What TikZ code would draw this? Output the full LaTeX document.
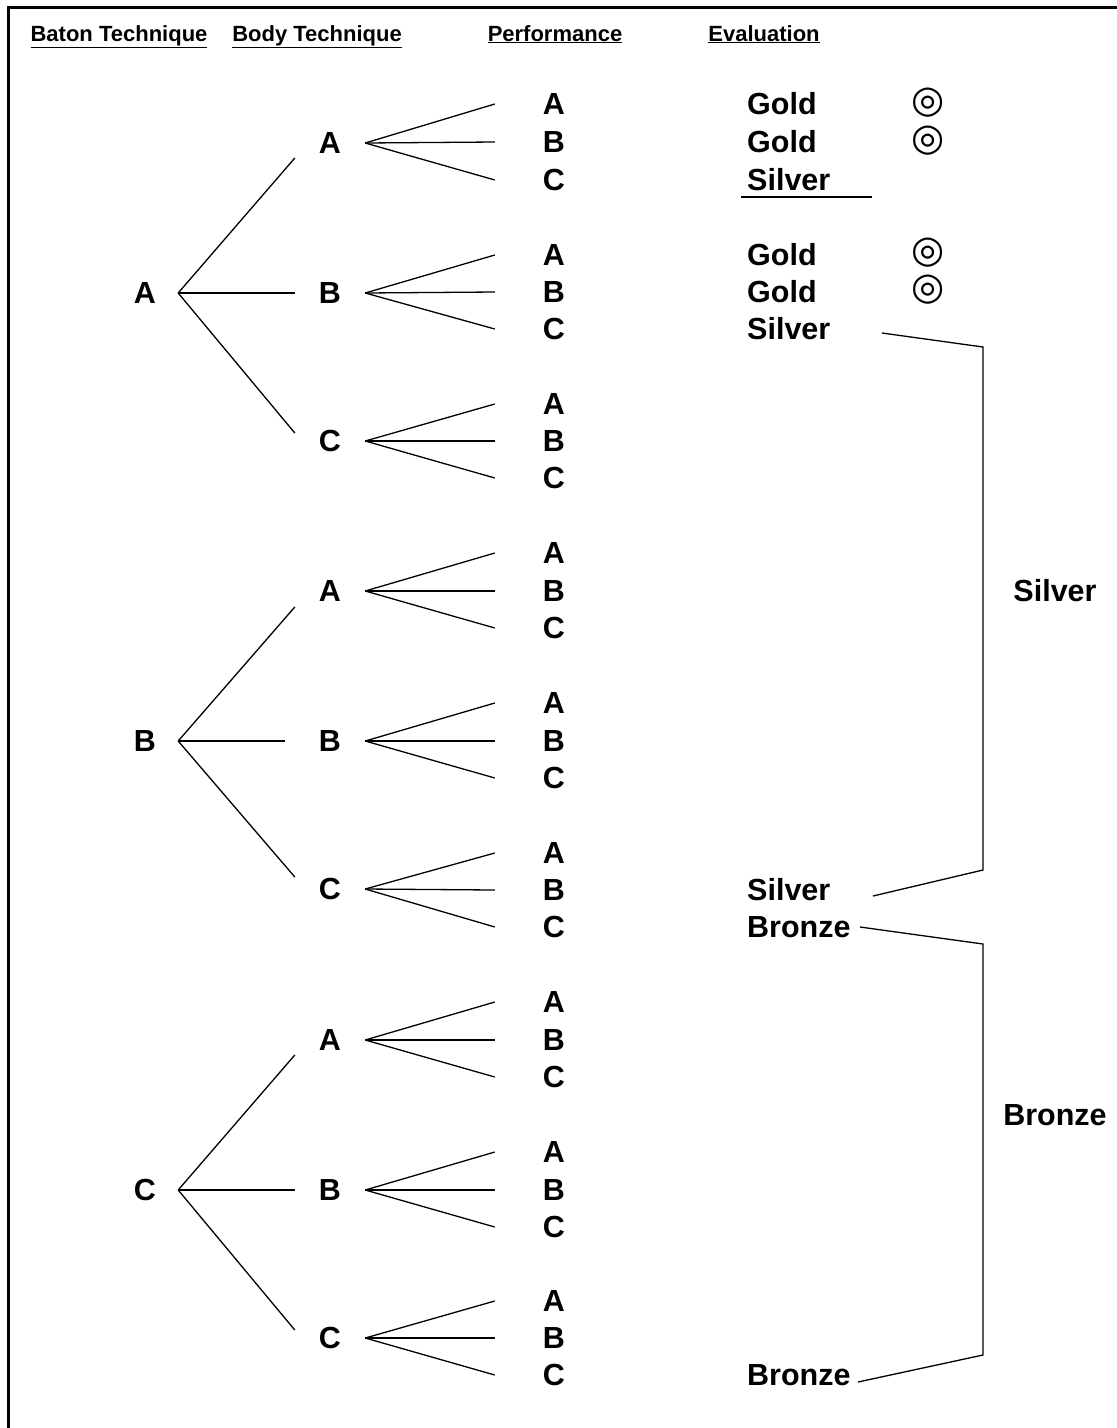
\documentclass[tikz,border=0pt]{standalone}
\usepackage{fontspec}
\setmainfont{Liberation Sans}
\newfontfamily\symfont{DejaVu Sans}
\begin{document}
\begin{tikzpicture}[
  x=1pt, y=-1pt,
  head/.style={font=\bfseries\fontsize{22}{26}\selectfont, inner sep=0pt, anchor=base},
  root/.style={font=\bfseries\fontsize{30.5}{36}\selectfont, inner sep=0pt, minimum width=66pt},
  mid/.style={font=\bfseries\fontsize{30.5}{36}\selectfont, inner sep=0pt, minimum width=70pt},
  leaf/.style={font=\bfseries\fontsize{30.5}{36}\selectfont, inner sep=0pt, minimum width=118pt},
  eval/.style={font=\bfseries\fontsize{30.5}{36}\selectfont, inner sep=0pt, anchor=west},
  medal/.style={font=\symfont\bfseries\fontsize{38}{40}\selectfont, inner sep=0pt},
  group/.style={font=\bfseries\fontsize{30.5}{36}\selectfont, inner sep=0pt},
  branch/.style={line width=1.3pt},
  brace/.style={line width=1.3pt},
]
  \useasboundingbox (0,0) rectangle (1117,1428);
  \draw[line width=3pt] (1117,7) -- (8,7) -- (8,1428);

  \node[head] (h1) at (119,41) {\underline{Baton Technique}};
  \node[head] (h2) at (317,41) {\underline{Body Technique}};
  \node[head] (h3) at (555,41) {\underline{Performance}};
  \node[head] (h4) at (764,41) {\underline{Evaluation}};

  \node[root] (a) at (145, 293) {A};
  \node[root] (b) at (145, 741) {B};
  \node[root] (c) at (145,1190) {C};

  \node[mid] (aa) at (330, 143) {A};
  \node[mid] (ab) at (330, 293) {B};
  \node[mid] (ac) at (330, 441) {C};
  \node[mid] (ba) at (330, 591) {A};
  \node[mid] (bb) at (330, 741) {B};
  \node[mid] (bc) at (330, 889) {C};
  \node[mid] (ca) at (330,1040) {A};
  \node[mid] (cb) at (330,1190) {B};
  \node[mid] (cc) at (330,1338) {C};

  \node[leaf] (aaa) at (554, 104) {A};
  \node[leaf] (aab) at (554, 142) {B};
  \node[leaf] (aac) at (554, 180) {C};
  \node[leaf] (aba) at (554, 255) {A};
  \node[leaf] (abb) at (554, 292) {B};
  \node[leaf] (abc) at (554, 329) {C};
  \node[leaf] (aca) at (554, 404) {A};
  \node[leaf] (acb) at (554, 441) {B};
  \node[leaf] (acc) at (554, 478) {C};
  \node[leaf] (baa) at (554, 553) {A};
  \node[leaf] (bab) at (554, 591) {B};
  \node[leaf] (bac) at (554, 628) {C};
  \node[leaf] (bba) at (554, 703) {A};
  \node[leaf] (bbb) at (554, 741) {B};
  \node[leaf] (bbc) at (554, 778) {C};
  \node[leaf] (bca) at (554, 853) {A};
  \node[leaf] (bcb) at (554, 890) {B};
  \node[leaf] (bcc) at (554, 927) {C};
  \node[leaf] (caa) at (554,1002) {A};
  \node[leaf] (cab) at (554,1040) {B};
  \node[leaf] (cac) at (554,1077) {C};
  \node[leaf] (cba) at (554,1152) {A};
  \node[leaf] (cbb) at (554,1190) {B};
  \node[leaf] (cbc) at (554,1227) {C};
  \node[leaf] (cca) at (554,1301) {A};
  \node[leaf] (ccb) at (554,1338) {B};
  \node[leaf] (ccc) at (554,1375) {C};

  \node[eval] (g1) at (747, 104) {Gold};
  \node[eval] (g2) at (747, 142) {Gold};
  \node[eval] (s1) at (747, 180) {Silver};
  \node[eval] (g3) at (747, 255) {Gold};
  \node[eval] (g4) at (747, 292) {Gold};
  \node[eval] (s2) at (747, 329) {Silver};
  \node[eval] (s3) at (747, 890) {Silver};
  \node[eval] (z1) at (747, 927) {Bronze};
  \node[eval] (z2) at (747,1375) {Bronze};

  \node[medal] (d1) at (928,103) {◎};
  \node[medal] (d2) at (928,141) {◎};
  \node[medal] (d3) at (928,253) {◎};
  \node[medal] (d4) at (928,290) {◎};

  \node[group] (sv) at (1055, 591) {Silver};
  \node[group] (bz) at (1055,1115) {Bronze};

  \draw[branch] (a.east) -- ([yshift=-15pt]aa.west);
  \draw[branch] (a.east) -- (ab.west);
  \draw[branch] (a.east) -- ([yshift=8pt]ac.west);
  \draw[branch] (b.east) -- ([yshift=-16pt]ba.west);
  \draw[branch] (b.east) -- ([xshift=-10pt]bb.west);
  \draw[branch] (b.east) -- ([yshift=12pt]bc.west);
  \draw[branch] (c.east) -- ([yshift=-15pt]ca.west);
  \draw[branch] (c.east) -- (cb.west);
  \draw[branch] (c.east) -- ([yshift=8pt]cc.west);

  \draw[branch] (aa.east) -- (aaa.west);
  \draw[branch] (aa.east) -- (aab.west);
  \draw[branch] (aa.east) -- (aac.west);
  \draw[branch] (ab.east) -- (aba.west);
  \draw[branch] (ab.east) -- (abb.west);
  \draw[branch] (ab.east) -- (abc.west);
  \draw[branch] (ac.east) -- (aca.west);
  \draw[branch] (ac.east) -- (acb.west);
  \draw[branch] (ac.east) -- (acc.west);
  \draw[branch] (ba.east) -- (baa.west);
  \draw[branch] (ba.east) -- (bab.west);
  \draw[branch] (ba.east) -- (bac.west);
  \draw[branch] (bb.east) -- (bba.west);
  \draw[branch] (bb.east) -- (bbb.west);
  \draw[branch] (bb.east) -- (bbc.west);
  \draw[branch] (bc.east) -- (bca.west);
  \draw[branch] (bc.east) -- (bcb.west);
  \draw[branch] (bc.east) -- (bcc.west);
  \draw[branch] (ca.east) -- (caa.west);
  \draw[branch] (ca.east) -- (cab.west);
  \draw[branch] (ca.east) -- (cac.west);
  \draw[branch] (cb.east) -- (cba.west);
  \draw[branch] (cb.east) -- (cbb.west);
  \draw[branch] (cb.east) -- (cbc.west);
  \draw[branch] (cc.east) -- (cca.west);
  \draw[branch] (cc.east) -- (ccb.west);
  \draw[branch] (cc.east) -- (ccc.west);

  \coordinate (u1) at (741,197);
  \coordinate (u2) at (872,197);
  \draw[line width=1.6pt] (u1) -- (u2);

  \coordinate (s2r) at (882, 333);
  \coordinate (st)  at (983, 347);
  \coordinate (sb)  at (983, 870);
  \coordinate (s3r) at (873, 896);
  \coordinate (z1r) at (860, 927);
  \coordinate (bt)  at (983, 944);
  \coordinate (bb2) at (983,1355);
  \coordinate (z2r) at (858,1382);
  \draw[brace] (s2r) -- (st) -- (sb) -- (s3r);
  \draw[brace] (z1r) -- (bt) -- (bb2) -- (z2r);
\end{tikzpicture}
\end{document}
